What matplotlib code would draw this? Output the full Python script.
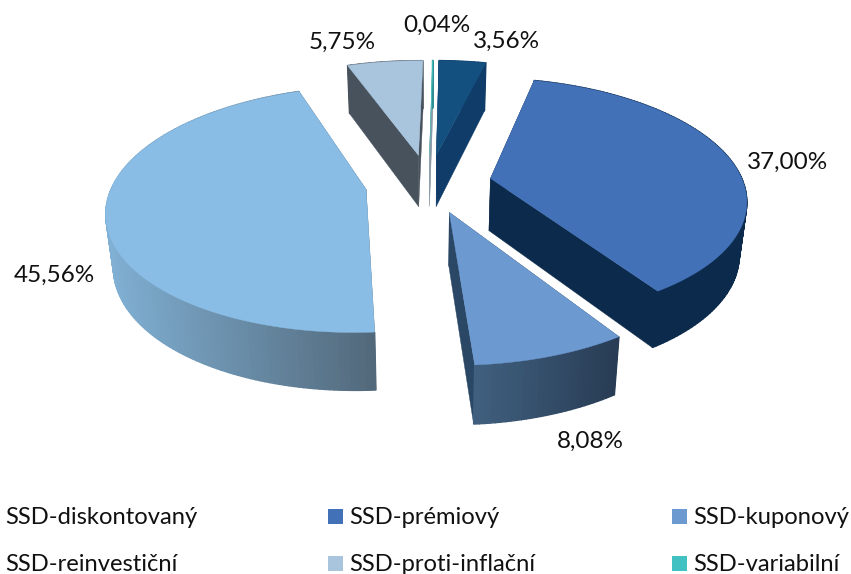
import numpy as np
import matplotlib
matplotlib.use('Agg')
import matplotlib.pyplot as plt
from matplotlib.colors import to_rgb
from matplotlib.patches import Rectangle

plt.rcParams['font.family'] = ['Lato', 'DejaVu Sans']

# data, clockwise from the top of the pie
names = ['SSD-diskontovaný', 'SSD-prémiový', 'SSD-kuponový',
         'SSD-reinvestiční', 'SSD-proti-inflační', 'SSD-variabilní']
values = [3.56, 37.00, 8.08, 45.56, 5.75, 0.04]

top_colors = ['#14507f', '#4271b8', '#6c99cf', '#8abde6', '#a9c4dd', '#41c1c1']
# left and right colour of the rim, and colour of the cut faces
rim_colors = [('#0f3c68', '#0f3c68'), ('#0c2a4b', '#0c2a4b'), ('#40607f', '#283c54'),
              ('#80b0d4', '#52687a'), ('#47525c', '#47525c'), ('#2f8f92', '#2f8f92')]
cut_colors = ['#0f3c68', '#0c2a4b', '#2a4766', '#52687a', '#47525c', '#8a9aa8']
draw_order = [4, 5, 0, 3, 1, 2]

label_pos = [(507, 41), (788, 162), (590, 441), (54, 275), (342, 42), (437, 25)]

# projection of the tilted pie to figure pixels
cx, cy = 428.5, 183.3
R, q = 253.0, 118.0
persp = 0.16
explode = 0.25
first_angle = 1.0


def project(u, v):
    w = 1 - persp * v
    return cx + R * u / w, cy + q * v / w


def drop(x, y):
    # same points on the lower edge of the pie
    return cx + (x - cx) * 0.976, y + 52.4 + 4.4 * (y - cy) / q


def mix(c1, c2, t):
    a, b = np.array(to_rgb(c1)), np.array(to_rgb(c2))
    return tuple(a + (b - a) * t)


def draw_slice(ax, idx, a0, a1):
    mid = (a0 + a1) / 2
    ou, ov = explode * np.sin(mid), -explode * np.cos(mid)
    n = max(2, int(np.degrees(a1 - a0)))
    th = np.linspace(a0, a1, n + 1)
    x, y = project(ou + np.sin(th), ov - np.cos(th))
    ax_, ay_ = project(ou, ov)
    xb, yb = drop(x, y)
    axb, ayb = drop(ax_, ay_)

    # cut faces
    for k in (0, -1):
        ax.fill([ax_, x[k], xb[k], axb], [ay_, y[k], yb[k], ayb],
                color=cut_colors[idx], lw=0.3, zorder=1)

    # rim, split so that it can shade from left to right
    left, right = x.min(), x.max()
    for i in range(n):
        t = ((x[i] + x[i + 1]) / 2 - left) / max(right - left, 1)
        c = mix(rim_colors[idx][0], rim_colors[idx][1], t)
        ax.fill([x[i], x[i + 1], xb[i + 1], xb[i]], [y[i], y[i + 1], yb[i + 1], yb[i]],
                color=c, lw=1.0, zorder=1)

    ax.fill(np.r_[ax_, x], np.r_[ay_, y], color=top_colors[idx], lw=0.3, zorder=1)


fig = plt.figure(figsize=(8.51, 5.74), dpi=100)
ax = fig.add_axes([0, 0, 1, 1])
ax.set_xlim(0, 851)
ax.set_ylim(574, 0)
ax.axis('off')

edges = np.radians(np.r_[0, np.cumsum(values)] / sum(values) * 360 + first_angle)
for i in draw_order:
    draw_slice(ax, i, edges[i], edges[i + 1])

for val, pos in zip(values, label_pos):
    ax.text(pos[0], pos[1], f'{val:.2f}'.replace('.', ',') + '%', fontsize=17.5,
            color='#111111', ha='center', va='center')

# legend, the first column runs off the left side as in the source
col_x = [5, 349, 693]
row_y = [524, 571]
for i, name in enumerate(names):
    tx = col_x[i % 3]
    ty = row_y[i // 3]
    ax.add_patch(Rectangle((tx - 21, ty - 15), 15, 15, color=top_colors[i], lw=0, clip_on=False))
    ax.text(tx, ty, name, fontsize=17.1, color='#111111', ha='left', va='baseline')

fig.savefig('out.png', dpi=100)
